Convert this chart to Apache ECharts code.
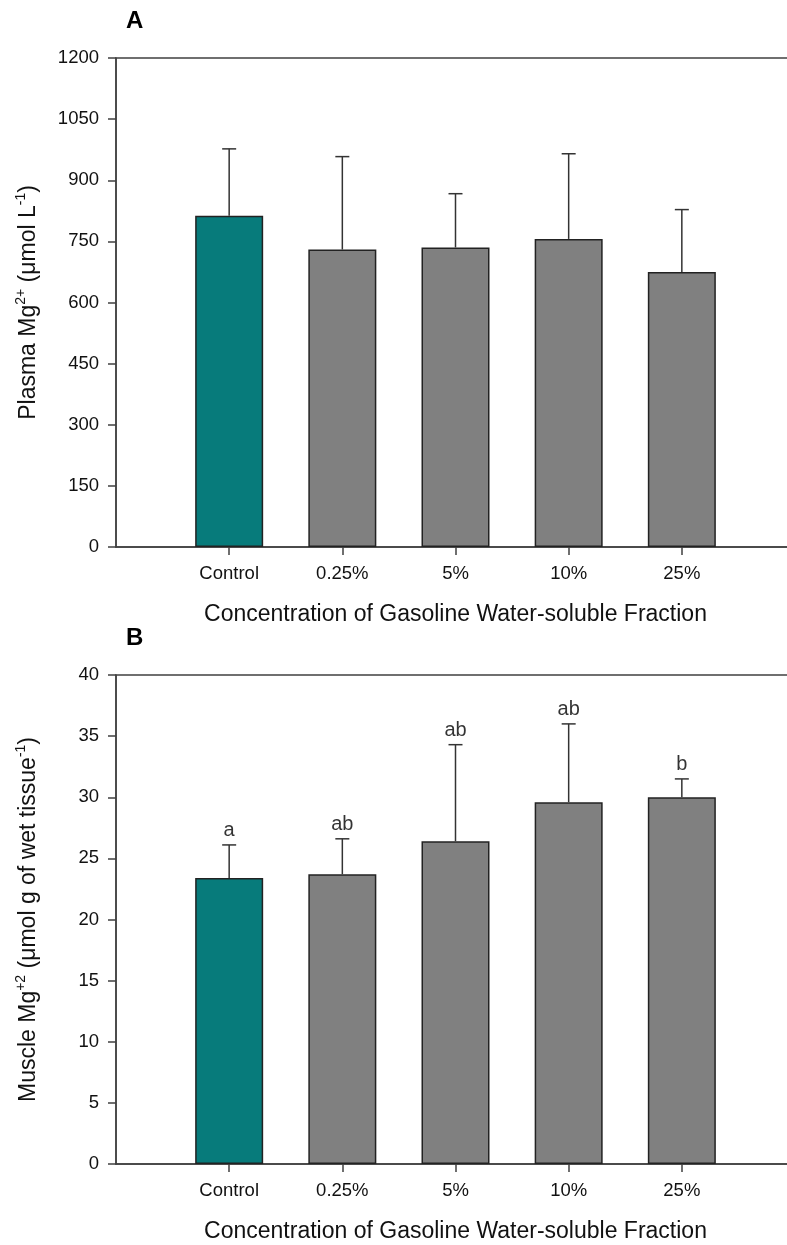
<!DOCTYPE html>
<html>
<head>
<meta charset="utf-8">
<script src="https://cdn.jsdelivr.net/npm/echarts@6/dist/echarts.min.js"></script>
<style>
  html, body { margin: 0; padding: 0; background: #ffffff; }
  #chart { width: 787px; height: 1245px; }
</style>
</head>
<body>
<div id="chart"></div>
<script>
// ---- data ----
const categories = ['Control', '0.25%', '5%', '10%', '25%'];
const plasmaMean = [813, 730, 735, 756, 675];
const plasmaErr  = [164, 228, 132, 209, 153];
const muscleMean = [23.4, 23.7, 26.4, 29.6, 30.0];
const muscleErr  = [2.7, 2.9, 7.9, 6.4, 1.5];
const muscleLetters = ['a', 'ab', 'ab', 'ab', 'b'];
const plasmaTicks = { min: 0, max: 1200, interval: 150 };
const muscleTicks = { min: 0, max: 40, interval: 5 };
const xTitle = 'Concentration of Gasoline Water-soluble Fraction';

// ---- styles ----
const FONT = "'Liberation Sans', Arial, sans-serif";
const TEAL = '#077b7b';
const GRAY = '#808080';
const LINE = '#404040';
const TXT = '#111111';

const axisCats = [''].concat(categories).concat(['']);

function xAxisFor(gridIndex) {
  return {
    type: 'category', gridIndex, data: axisCats, boundaryGap: false,
    axisLine: { show: true, lineStyle: { color: LINE, width: 1.5 } },
    axisTick: { show: true, length: 8, interval: (i) => i > 0 && i < axisCats.length - 1,
                lineStyle: { color: LINE, width: 1.5 } },
    axisLabel: { color: TXT, fontFamily: FONT, fontSize: 18.5, margin: 17,
                 interval: 0 },
    splitLine: { show: false },
    name: xTitle, nameLocation: 'middle', nameGap: 56,
    nameTextStyle: { color: TXT, fontFamily: FONT, fontSize: 23 }
  };
}

function yAxisFor(gridIndex, ticks, nameRich) {
  return {
    type: 'value', gridIndex, min: ticks.min, max: ticks.max, interval: ticks.interval,
    axisLine: { show: true, lineStyle: { color: LINE, width: 1.5 } },
    axisTick: { show: true, length: 8, lineStyle: { color: LINE, width: 1.5 } },
    axisLabel: { color: TXT, fontFamily: FONT, fontSize: 18.5, margin: 17,
                 formatter: (v) => String(v) },
    splitLine: { show: false },
    name: nameRich, nameLocation: 'middle', nameGap: 76,
    nameTextStyle: {
      color: TXT, fontFamily: FONT, fontSize: 23,
      rich: {
        n: { color: TXT, fontFamily: FONT, fontSize: 23, lineHeight: 28, verticalAlign: 'bottom' },
        s: { color: TXT, fontFamily: FONT, fontSize: 14, lineHeight: 28, verticalAlign: 'top', padding: [2, 0, 0, 0] }
      }
    }
  };
}

function barData(means) {
  return means.map((v, i) => ({
    value: [categories[i], v],
    itemStyle: { color: i === 0 ? TEAL : GRAY }
  }));
}

function errData(means, errs) {
  return means.map((v, i) => [categories[i], v, v + errs[i]]);
}

function errRender(params, api) {
  const x = api.value(0);
  const p0 = api.coord([x, api.value(1)]);
  const p1 = api.coord([x, api.value(2)]);
  const half = 7;
  const style = { stroke: '#333333', lineWidth: 1.5 };
  return {
    type: 'group',
    children: [
      { type: 'line', shape: { x1: p0[0], y1: p0[1], x2: p1[0], y2: p1[1] }, style },
      { type: 'line', shape: { x1: p1[0] - half, y1: p1[1], x2: p1[0] + half, y2: p1[1] }, style }
    ]
  };
}

const gridCommon = { left: 116, width: 679, outerBoundsMode: 'none', containLabel: false,
  show: true, borderColor: LINE, borderWidth: 1.5, backgroundColor: 'transparent' };

const option = {
  animation: false,
  backgroundColor: '#ffffff',
  grid: [
    Object.assign({ top: 58, height: 489 }, gridCommon),
    Object.assign({ top: 675, height: 489 }, gridCommon)
  ],
  xAxis: [xAxisFor(0), xAxisFor(1)],
  yAxis: [
    yAxisFor(0, plasmaTicks, '{n|Plasma Mg}{s|2+}{n| (μmol L}{s|-1}{n|)}'),
    yAxisFor(1, muscleTicks, '{n|Muscle Mg}{s|+2}{n| (μmol g of wet tissue}{s|-1}{n|)}')
  ],
  graphic: [
    { type: 'text', left: 126, top: 9, style: { text: 'A', fontFamily: FONT, fontWeight: 'bold', fontSize: 24, fill: '#000' } },
    { type: 'text', left: 126, top: 626, style: { text: 'B', fontFamily: FONT, fontWeight: 'bold', fontSize: 24, fill: '#000' } }
  ],
  series: [
    { type: 'bar', xAxisIndex: 0, yAxisIndex: 0, barWidth: 68, data: barData(plasmaMean),
      itemStyle: { borderColor: '#222', borderWidth: 1.5 }, z: 2 },
    { type: 'custom', xAxisIndex: 0, yAxisIndex: 0, data: errData(plasmaMean, plasmaErr),
      renderItem: errRender, z: 3 },
    { type: 'bar', xAxisIndex: 1, yAxisIndex: 1, barWidth: 68, data: barData(muscleMean),
      itemStyle: { borderColor: '#222', borderWidth: 1.5 }, z: 2 },
    { type: 'custom', xAxisIndex: 1, yAxisIndex: 1, data: errData(muscleMean, muscleErr),
      renderItem: errRender, z: 3 },
    { type: 'scatter', xAxisIndex: 1, yAxisIndex: 1, symbolSize: 0, silent: true,
      data: muscleMean.map((v, i) => [categories[i], v + muscleErr[i]]),
      label: { show: true, position: 'top', distance: 4, color: '#000', fontFamily: FONT, fontSize: 20,
               formatter: (p) => muscleLetters[p.dataIndex] },
      emphasis: { disabled: true }, z: 4 }
  ]
};

const chart = echarts.init(document.getElementById('chart'), null, { renderer: 'canvas' });
chart.setOption(option);
</script>
</body>
</html>
